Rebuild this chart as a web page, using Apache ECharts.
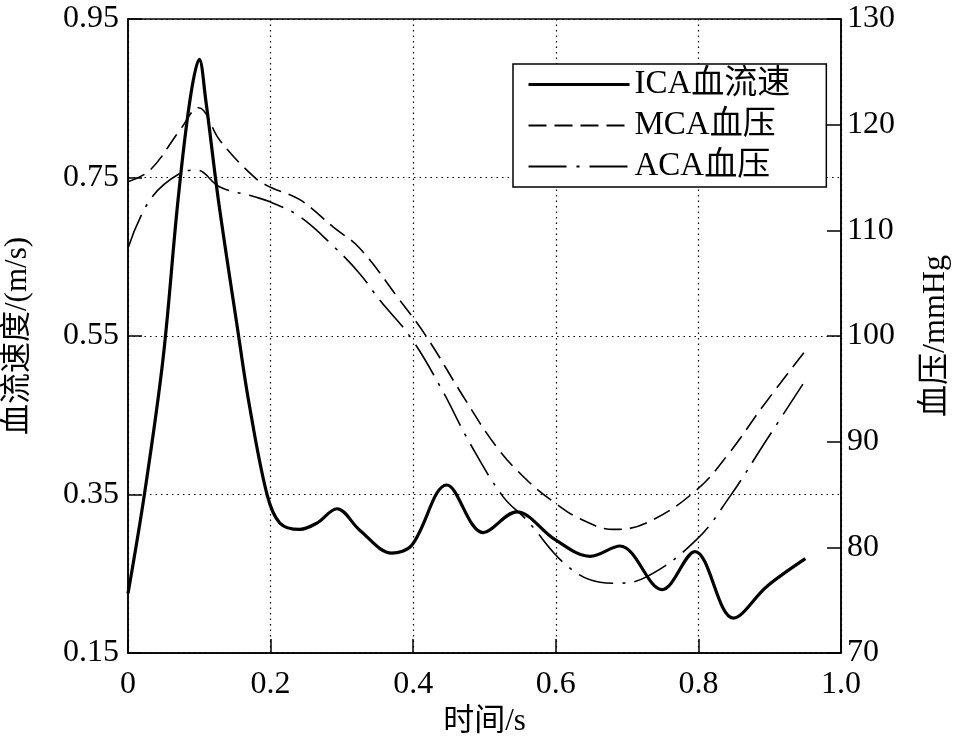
<!DOCTYPE html>
<html>
<head>
<meta charset="utf-8">
<script src="https://cdn.jsdelivr.net/npm/echarts@6/dist/echarts.min.js"></script>
<style>html,body{margin:0;padding:0;background:#fff;}#c{width:956px;height:745px;}</style>
</head>
<body>
<div id="c"></div>
<script>
var FONT = "'Liberation Serif', 'Times New Roman', 'Noto Sans CJK SC', serif";
var seriesNames = ['ICA血流速', 'MCA血压', 'ACA血压'];
var xTicks = [0, 0.2, 0.4, 0.6, 0.8, 1.0];
var leftTicks = [0.15, 0.35, 0.55, 0.75, 0.95];
var rightTicks = [70, 80, 90, 100, 110, 120, 130];

// [time s, velocity m/s]
var icaVelocity = [[0,0.225],[0.023,0.35],[0.049,0.52],[0.07,0.72],[0.087,0.848],[0.1,0.899],[0.109,0.848],[0.127,0.72],[0.154,0.557],[0.169,0.469],[0.195,0.35],[0.213,0.314],[0.241,0.306],[0.265,0.314],[0.293,0.332],[0.325,0.305],[0.37,0.276],[0.398,0.286],[0.447,0.362],[0.498,0.302],[0.545,0.328],[0.599,0.293],[0.648,0.272],[0.69,0.285],[0.749,0.23],[0.795,0.278],[0.849,0.194],[0.896,0.234],[0.95,0.269]];
// [time s, pressure mmHg]
var mcaPressure = [[0,114.6],[0.031,115.7],[0.073,119.5],[0.099,121.6],[0.129,118.5],[0.176,115.1],[0.199,114.1],[0.241,112.9],[0.288,110.3],[0.325,108.3],[0.381,103.4],[0.419,99.9],[0.47,94.3],[0.517,89.5],[0.559,86.4],[0.597,84.3],[0.634,82.7],[0.681,81.7],[0.727,82.3],[0.797,85.4],[0.844,89.0],[0.891,93.4],[0.95,98.6]];
var acaPressure = [[0,108.3],[0.031,112.9],[0.073,115.4],[0.096,115.7],[0.129,114.1],[0.176,113.2],[0.199,112.7],[0.241,111.3],[0.288,108.5],[0.325,105.9],[0.353,103.4],[0.396,99.9],[0.438,95.2],[0.48,89.8],[0.526,84.8],[0.559,82.6],[0.615,78.3],[0.662,76.7],[0.685,76.6],[0.727,77.2],[0.797,80.7],[0.844,84.8],[0.896,90.2],[0.95,95.8]];

var chart = echarts.init(document.getElementById('c'));
var gridLine = {show: true, lineStyle: {color: '#000', width: 1.2, type: [1.5, 4]}};
chart.setOption({
  animation: false,
  backgroundColor: '#fff',
  grid: {left: 128, right: 115, top: 19, bottom: 92, show: true, borderColor: '#000', borderWidth: 1.5,
    containLabel: false, outerBoundsMode: 'none'},
  legend: {
    orient: 'vertical', left: 513, top: 64,
    data: [
      {name: seriesNames[0], lineStyle: {width: 3, type: 'solid'}},
      {name: seriesNames[1], lineStyle: {width: 1.8, type: [18, 8]}},
      {name: seriesNames[2], lineStyle: {width: 1.8, type: [38, 10, 3, 10]}}
    ],
    itemWidth: 101, itemHeight: 28, itemGap: 8,
    itemStyle: {opacity: 0},
    padding: [4, 36, 4, 14],
    borderColor: '#000', borderWidth: 1.5, backgroundColor: '#fff',
    textStyle: {fontFamily: FONT, fontSize: 33, color: '#000'}
  },
  xAxis: {
    type: 'value', min: 0, max: 1, interval: 0.2,
    name: '时间/s', nameLocation: 'middle', nameGap: 53,
    nameTextStyle: {fontFamily: FONT, fontSize: 31, color: '#000'},
    axisLine: {lineStyle: {color: '#000', width: 1.5}},
    axisTick: {inside: true, length: 14, lineStyle: {color: '#000', width: 1.5}},
    axisLabel: {fontFamily: FONT, fontSize: 32, color: '#000', margin: 16,
      formatter: function (v) { return v === 1 ? '1.0' : String(v); }},
    splitLine: gridLine
  },
  yAxis: [{
    type: 'value', min: 0.15, max: 0.95,
    name: '血流速度/(m/s)', nameLocation: 'middle', nameGap: 95, nameRotate: 90,
    nameTextStyle: {fontFamily: FONT, fontSize: 31, color: '#000'},
    axisLine: {lineStyle: {color: '#000', width: 1.5}},
    axisTick: {inside: true, length: 14, customValues: leftTicks, lineStyle: {color: '#000', width: 1.5}},
    axisLabel: {fontFamily: FONT, fontSize: 32, color: '#000', margin: 9, customValues: leftTicks,
      formatter: function (v) { return v.toFixed(2); }},
    splitLine: gridLine
  }, {
    type: 'value', min: 70, max: 130, interval: 10, position: 'right',
    name: '血压/mmHg', nameLocation: 'middle', nameGap: 79, nameRotate: 90,
    nameTextStyle: {fontFamily: FONT, fontSize: 32, color: '#000'},
    axisLine: {show: true, lineStyle: {color: '#000', width: 1.5}},
    axisTick: {show: true, inside: true, length: 14, lineStyle: {color: '#000', width: 1.5}},
    axisLabel: {fontFamily: FONT, fontSize: 32, color: '#000', margin: 6},
    splitLine: {show: false}
  }],
  series: [{
    name: seriesNames[0], type: 'line', yAxisIndex: 0, data: icaVelocity,
    smooth: 0.35, symbol: 'none', itemStyle: {color: '#000'}, lineStyle: {color: '#000', width: 3.2}, z: 5
  }, {
    name: seriesNames[1], type: 'line', yAxisIndex: 1, data: mcaPressure,
    smooth: 0.4, symbol: 'none', itemStyle: {color: '#000'}, lineStyle: {color: '#000', width: 1.6, type: [18, 8]}
  }, {
    name: seriesNames[2], type: 'line', yAxisIndex: 1, data: acaPressure,
    smooth: 0.4, symbol: 'none', itemStyle: {color: '#000'}, lineStyle: {color: '#000', width: 1.6, type: [36, 9, 3, 9]}
  }]
});
</script>
</body>
</html>
